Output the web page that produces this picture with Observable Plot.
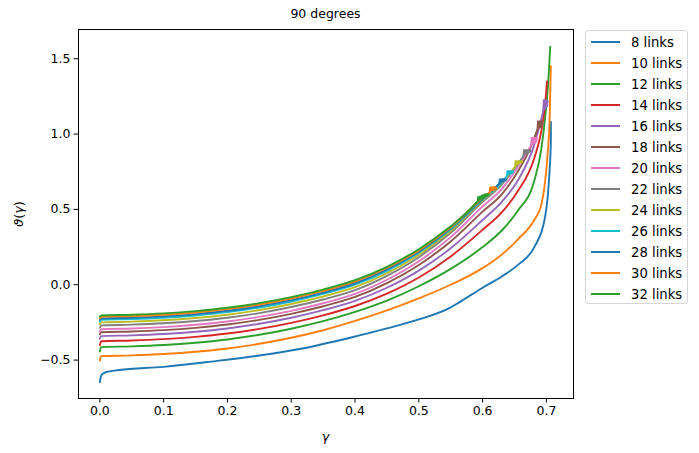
<!DOCTYPE html>
<html>
<head>
<meta charset="utf-8">
<script src="https://cdn.jsdelivr.net/npm/d3@7"></script>
<script src="https://cdn.jsdelivr.net/npm/@observablehq/plot@0.6"></script>
<style>
  html, body { margin: 0; padding: 0; background: #fff; }
  #root { position: relative; width: 699px; height: 453px; font-family: "DejaVu Sans", sans-serif; color: #000; overflow: hidden; }
  #chart { position: absolute; left: 0; top: 0; }
  .title { position: absolute; left: 78px; width: 495px; top: 6px; text-align: center; font-size: 12.5px; }
  .xlabel { position: absolute; left: 78px; width: 495px; top: 429px; text-align: center; font-size: 12.8px; }
  .ylabel { position: absolute; left: 18px; top: 214px; font-size: 12.8px; transform: translate(-50%, -50%) rotate(-90deg); white-space: nowrap; }
  .legend { position: absolute; left: 585px; top: 30px; width: 103px; height: 274px; border: 1px solid #d6d6d6; border-radius: 3px; background: rgba(255,255,255,0.8); box-sizing: border-box; }
  .row { position: absolute; left: 0; height: 16px; display: flex; align-items: center; font-size: 13.2px; white-space: nowrap; }
  .row .sw { width: 29px; height: 2px; margin-left: 5px; margin-right: 11px; }
</style>
</head>
<body>
<div id="root">
  <div id="chart"></div>
  <div class="title">90 degrees</div>
  <div class="xlabel"><i>γ</i></div>
  <div class="ylabel"><i>ϑ</i>(<i>γ</i>)</div>
  <div class="legend" id="legend"></div>
</div>
<script>
// ---- data ----
const seriesNames = ["8 links","10 links","12 links","14 links","16 links","18 links","20 links","22 links","24 links","26 links","28 links","30 links","32 links"];
const seriesColors = ["#1f77b4","#ff7f0e","#2ca02c","#d62728","#9467bd","#8c564b","#e377c2","#7f7f7f","#bcbd22","#17becf","#1f77b4","#ff7f0e","#2ca02c"];
const xTicks = [0.0, 0.1, 0.2, 0.3, 0.4, 0.5, 0.6, 0.7];
const yTicks = [-0.5, 0.0, 0.5, 1.0, 1.5];

// smooth parts of each curve
const gamma08 = [0, 0.001, 0.003, 0.007, 0.015, 0.03, 0.1, 0.175, 0.25, 0.315, 0.394, 0.45, 0.5, 0.55, 0.562, 0.6, 0.63, 0.655, 0.681, 0.697, 0.702, 0.705, 0.707, 0.7071];
const theta08 = [-0.647, -0.62, -0.598, -0.585, -0.575, -0.566, -0.545, -0.51, -0.47, -0.425, -0.35, -0.29, -0.23, -0.15, -0.12, -0.02, 0.055, 0.13, 0.25, 0.43, 0.58, 0.76, 0.95, 1.08];

const gamma10 = [0, 0.002, 0.05, 0.1, 0.15, 0.2, 0.25, 0.3, 0.35, 0.4, 0.45, 0.5, 0.55, 0.6, 0.63, 0.655, 0.681, 0.692, 0.697, 0.702, 0.705, 0.707];
const theta10 = [-0.503, -0.474, -0.469, -0.46, -0.445, -0.423, -0.392, -0.352, -0.302, -0.24, -0.17, -0.09, 0.0, 0.11, 0.2, 0.3, 0.43, 0.53, 0.65, 0.87, 1.09, 1.45];

const gamma12 = [0, 0.002, 0.05, 0.1, 0.15, 0.2, 0.25, 0.3, 0.35, 0.4, 0.45, 0.5, 0.55, 0.6, 0.63, 0.655, 0.681, 0.692, 0.699, 0.703, 0.706];
const theta12 = [-0.443, -0.414, -0.409, -0.4, -0.385, -0.363, -0.332, -0.292, -0.242, -0.18, -0.105, -0.01, 0.105, 0.25, 0.36, 0.49, 0.69, 0.9, 1.15, 1.35, 1.58];

const gamma14 = [0, 0.002, 0.05, 0.1, 0.15, 0.2, 0.25, 0.3, 0.35, 0.4, 0.45, 0.5, 0.55, 0.6, 0.63, 0.655, 0.681, 0.692, 0.698, 0.701];
const theta14 = [-0.401, -0.375, -0.37, -0.361, -0.346, -0.324, -0.293, -0.253, -0.203, -0.141, -0.059, 0.048, 0.188, 0.365, 0.48, 0.62, 0.84, 1.02, 1.2, 1.35];

const gamma16 = [0, 0.002, 0.05, 0.1, 0.15, 0.2, 0.25, 0.3, 0.35, 0.4, 0.45, 0.5, 0.55, 0.6, 0.63, 0.655, 0.681, 0.692, 0.695];
const theta16 = [-0.359, -0.341, -0.336, -0.327, -0.312, -0.29, -0.259, -0.219, -0.169, -0.107, -0.02, 0.094, 0.242, 0.43, 0.55, 0.69, 0.93, 1.1, 1.15];

const gamma18 = [0, 0.002, 0.05, 0.1, 0.15, 0.2, 0.25, 0.3, 0.35, 0.4, 0.45, 0.5, 0.55, 0.6, 0.63, 0.655, 0.675, 0.686];
const theta18 = [-0.33, -0.315, -0.31, -0.301, -0.286, -0.264, -0.233, -0.193, -0.143, -0.081, 0.011, 0.131, 0.287, 0.485, 0.6, 0.75, 0.91, 1.03];

const gamma20 = [0, 0.002, 0.05, 0.1, 0.15, 0.2, 0.25, 0.3, 0.35, 0.4, 0.45, 0.5, 0.55, 0.6, 0.63, 0.655, 0.676];
const theta20 = [-0.31, -0.295, -0.29, -0.281, -0.266, -0.244, -0.213, -0.173, -0.123, -0.061, 0.033, 0.156, 0.316, 0.52, 0.635, 0.78, 0.925];

const gamma22 = [0, 0.002, 0.05, 0.1, 0.15, 0.2, 0.25, 0.3, 0.35, 0.4, 0.45, 0.5, 0.55, 0.6, 0.63, 0.655, 0.664];
const theta22 = [-0.285, -0.270, -0.265, -0.256, -0.241, -0.219, -0.188, -0.148, -0.098, -0.036, 0.059, 0.183, 0.345, 0.55, 0.665, 0.8, 0.855];

const gamma24 = [0, 0.002, 0.05, 0.1, 0.15, 0.2, 0.25, 0.3, 0.35, 0.4, 0.45, 0.5, 0.55, 0.6, 0.63, 0.651];
const theta24 = [-0.262, -0.250, -0.245, -0.236, -0.221, -0.199, -0.168, -0.128, -0.078, -0.016, 0.077, 0.199, 0.358, 0.56, 0.675, 0.785];

const gamma26 = [0, 0.002, 0.05, 0.1, 0.15, 0.2, 0.25, 0.3, 0.35, 0.4, 0.45, 0.5, 0.55, 0.6, 0.63, 0.638];
const theta26 = [-0.245, -0.233, -0.228, -0.219, -0.204, -0.182, -0.151, -0.111, -0.061, 0.001, 0.092, 0.212, 0.368, 0.565, 0.68, 0.722];

const gamma28 = [0, 0.002, 0.05, 0.1, 0.15, 0.2, 0.25, 0.3, 0.35, 0.4, 0.45, 0.5, 0.55, 0.6, 0.626];
const theta28 = [-0.235, -0.224, -0.219, -0.21, -0.195, -0.173, -0.142, -0.102, -0.052, 0.01, 0.101, 0.22, 0.375, 0.57, 0.67];

const gamma30 = [0, 0.002, 0.05, 0.1, 0.15, 0.2, 0.25, 0.3, 0.35, 0.4, 0.45, 0.5, 0.55, 0.6, 0.611];
const theta30 = [-0.222, -0.213, -0.208, -0.199, -0.184, -0.162, -0.131, -0.091, -0.041, 0.021, 0.111, 0.228, 0.381, 0.575, 0.612];

const gamma32 = [0, 0.002, 0.05, 0.1, 0.15, 0.2, 0.25, 0.3, 0.35, 0.4, 0.45, 0.5, 0.55, 0.58, 0.59];
const theta32 = [-0.212, -0.204, -0.199, -0.19, -0.175, -0.153, -0.122, -0.082, -0.032, 0.03, 0.119, 0.236, 0.388, 0.5, 0.545];

// jagged (noisy) tails near the top of the larger link counts
const tailGamma16 = [0.695, 0.696, 0.697, 0.698, 0.699, 0.700, 0.701, 0.702];
const tailTheta16 = [1.15, 1.23, 1.16, 1.23, 1.17, 1.23, 1.18, 1.22];
const tailGamma18 = [0.686, 0.687, 0.688, 0.689, 0.690, 0.691, 0.692, 0.693, 0.694];
const tailTheta18 = [1.03, 1.09, 1.035, 1.09, 1.04, 1.09, 1.045, 1.09, 1.06];
const tailGamma20 = [0.676, 0.677, 0.678, 0.679, 0.680, 0.681, 0.682, 0.683, 0.684, 0.685];
const tailTheta20 = [0.925, 0.98, 0.93, 0.98, 0.935, 0.98, 0.94, 0.98, 0.945, 0.975];
const tailGamma22 = [0.664, 0.665, 0.666, 0.667, 0.668, 0.669, 0.670, 0.671, 0.672, 0.673, 0.674, 0.675];
const tailTheta22 = [0.855, 0.898, 0.86, 0.898, 0.865, 0.898, 0.87, 0.898, 0.875, 0.898, 0.88, 0.89];
const tailGamma24 = [0.651, 0.652, 0.653, 0.654, 0.655, 0.656, 0.657, 0.658, 0.659, 0.660, 0.661, 0.662];
const tailTheta24 = [0.785, 0.825, 0.79, 0.825, 0.795, 0.825, 0.8, 0.825, 0.805, 0.825, 0.81, 0.82];
const tailGamma26 = [0.638, 0.639, 0.640, 0.641, 0.642, 0.643, 0.644, 0.645, 0.646, 0.647, 0.648];
const tailTheta26 = [0.722, 0.759, 0.726, 0.759, 0.73, 0.759, 0.735, 0.759, 0.74, 0.759, 0.745];
const tailGamma28 = [0.626, 0.627, 0.628, 0.629, 0.630, 0.631, 0.632, 0.633, 0.634, 0.635, 0.636, 0.637];
const tailTheta28 = [0.67, 0.705, 0.674, 0.705, 0.678, 0.705, 0.682, 0.705, 0.686, 0.705, 0.69, 0.7];
const tailGamma30 = [0.611, 0.612, 0.613, 0.614, 0.615, 0.616, 0.617, 0.618, 0.619, 0.620, 0.621];
const tailTheta30 = [0.612, 0.652, 0.618, 0.652, 0.622, 0.652, 0.627, 0.652, 0.632, 0.652, 0.637];
const tailGamma32 = [0.59, 0.592, 0.593, 0.594, 0.595, 0.596, 0.597, 0.598, 0.599, 0.600, 0.601, 0.602, 0.603, 0.604, 0.605, 0.606, 0.607, 0.608, 0.609];
const tailTheta32 = [0.545, 0.55, 0.585, 0.555, 0.59, 0.56, 0.592, 0.565, 0.596, 0.57, 0.6, 0.575, 0.603, 0.58, 0.606, 0.585, 0.606, 0.59, 0.6];

const gammas = [gamma08, gamma10, gamma12, gamma14, gamma16, gamma18, gamma20, gamma22, gamma24, gamma26, gamma28, gamma30, gamma32];
const thetas = [theta08, theta10, theta12, theta14, theta16, theta18, theta20, theta22, theta24, theta26, theta28, theta30, theta32];
const tailGammas = [[], [], [], [], tailGamma16, tailGamma18, tailGamma20, tailGamma22, tailGamma24, tailGamma26, tailGamma28, tailGamma30, tailGamma32];
const tailThetas = [[], [], [], [], tailTheta16, tailTheta18, tailTheta20, tailTheta22, tailTheta24, tailTheta26, tailTheta28, tailTheta30, tailTheta32];

// ---- build tables and marks ----
const marks = [];
seriesNames.forEach((name, i) => {
  const main = gammas[i].map((g, j) => ({series: name, g, t: thetas[i][j]}));
  marks.push(Plot.line(main, {x: "g", y: "t", stroke: "series", strokeWidth: 1.9, curve: "monotone-x", strokeLinejoin: "round"}));
  if (tailGammas[i].length) {
    const tail = tailGammas[i].map((g, j) => ({series: name, g, t: tailThetas[i][j]}));
    marks.push(Plot.line(tail, {x: "g", y: "t", stroke: "series", strokeWidth: 1.9, curve: "linear", strokeLinejoin: "miter"}));
  }
});

const chart = Plot.plot({
  width: 590,
  height: 453,
  marginLeft: 78,
  marginRight: 17,
  marginTop: 29,
  marginBottom: 55,
  style: {fontFamily: "DejaVu Sans, sans-serif", fontSize: "12.5px", color: "#000", background: "transparent", overflow: "visible"},
  x: {domain: [-0.0335, 0.7425]},
  y: {domain: [-0.755, 1.694]},
  color: {domain: seriesNames, range: seriesColors},
  marks: [
    ...marks,
    Plot.frame({stroke: "#000", strokeWidth: 1}),
    Plot.axisX({ticks: xTicks, tickFormat: d3.format(".1f"), tickSize: 4.5, tickPadding: 3.5, label: null, stroke: "#000"}),
    Plot.axisY({ticks: yTicks, tickFormat: d3.format(".1f"), tickSize: 4.5, tickPadding: 3.5, label: null, stroke: "#000"})
  ]
});
document.getElementById("chart").appendChild(chart);

// ---- legend ----
const legend = document.getElementById("legend");
seriesNames.forEach((name, i) => {
  const row = document.createElement("div");
  row.className = "row";
  row.style.top = (3 + 21 * i) + "px";
  const sw = document.createElement("span");
  sw.className = "sw";
  sw.style.background = seriesColors[i];
  const label = document.createElement("span");
  label.textContent = name;
  row.appendChild(sw);
  row.appendChild(label);
  legend.appendChild(row);
});
</script>
</body>
</html>
